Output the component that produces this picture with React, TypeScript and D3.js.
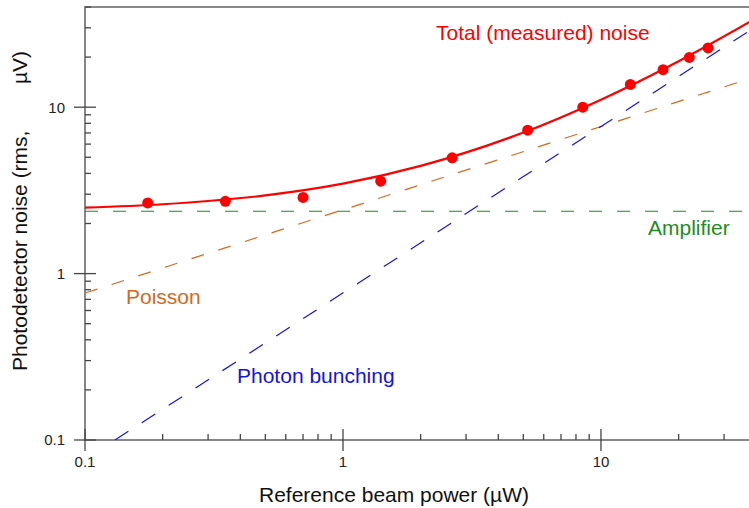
import React from "react";
import * as d3 from "d3";

// measured points (reference beam power in µW, noise in µV rms)
const measuredPower = [0.175, 0.35, 0.7, 1.4, 2.65, 5.2, 8.5, 13, 17.4, 22, 26];
const measuredNoise = [2.66, 2.72, 2.87, 3.59, 4.96, 7.28, 10, 13.7, 16.8, 19.9, 22.7];

// total noise fit curve
const totalPower = [0.1, 0.2, 0.5, 1, 2, 5, 10, 20, 40];
const totalNoise = [2.49, 2.61, 2.95, 3.47, 4.44, 7.04, 11.1, 18.9, 34.3];

// straight components (two end points each on log-log axes)
const amplifierPower = [0.1, 40];
const amplifierNoise = [2.37, 2.37];
const poissonPower = [0.1, 40];
const poissonNoise = [0.764, 15.3];
const bunchingPower = [0.1306, 40];
const bunchingNoise = [0.1, 30.6];

const xMajorTicks = [0.1, 1, 10];
const xTickLabels = ["0.1", "1", "10"];
const yMajorTicks = [0.1, 1, 10];
const yTickLabels = ["0.1", "1", "10"];

const W = 749;
const H = 508;
const FONT = "'Liberation Sans', Arial, sans-serif";

export default function App() {
  const x = d3.scaleLog().domain([0.1, 40]).range([85, 756.3]);
  const y = d3.scaleLog().domain([0.1, 40]).range([440, 7]);
  const [x0, x1] = x.range();
  const [y0, y1] = y.range();

  const zip = (xs: number[], ys: number[]) => xs.map((v, i) => [v, ys[i]] as [number, number]);
  const straight = d3
    .line<[number, number]>()
    .x((d) => x(d[0]))
    .y((d) => y(d[1]));
  const smooth = straight.curve(d3.curveMonotoneX);

  const minorX = x.ticks().filter((t) => !xMajorTicks.some((m) => Math.abs(m - t) < 1e-9));
  const minorY = y.ticks().filter((t) => !yMajorTicks.some((m) => Math.abs(m - t) < 1e-9));

  const axisCol = "#6a6a6a";
  const tickCol = "#444";

  return (
    <svg
      width={W}
      height={H}
      style={{ position: "absolute", left: 0, top: 0, background: "#fff" }}
      fontFamily={FONT}
    >
      <defs>
        <clipPath id="plot">
          <rect x={x0} y={y1} width={x1 - x0} height={y0 - y1} />
        </clipPath>
      </defs>

      {/* frame */}
      <rect x={x0} y={y1} width={x1 - x0} height={y0 - y1} fill="none" stroke={axisCol} strokeWidth={1.6} />

      {/* x ticks */}
      {minorX.map((t) => (
        <line key={"mx" + t} x1={x(t)} x2={x(t)} y1={y0} y2={y0 - 6} stroke={tickCol} strokeWidth={1.3} />
      ))}
      {xMajorTicks.map((t, i) => (
        <g key={"Mx" + t}>
          <line x1={x(t)} x2={x(t)} y1={y0 + 11} y2={y0 - 11} stroke={tickCol} strokeWidth={1.3} />
          <text x={x(t)} y={467} textAnchor="middle" fontSize={15} fill="#222">
            {xTickLabels[i]}
          </text>
        </g>
      ))}

      {/* y ticks */}
      {minorY.map((t) => (
        <line key={"my" + t} x1={x0} x2={x0 + 6} y1={y(t)} y2={y(t)} stroke={tickCol} strokeWidth={1.3} />
      ))}
      {yMajorTicks.map((t, i) => (
        <g key={"My" + t}>
          <line x1={x0 - 11} x2={x0 + 11} y1={y(t)} y2={y(t)} stroke={tickCol} strokeWidth={1.3} />
          <text x={65} y={y(t)} dy="0.36em" textAnchor="end" fontSize={15} fill="#222">
            {yTickLabels[i]}
          </text>
        </g>
      ))}

      <g clipPath="url(#plot)" fill="none">
        <path d={straight(zip(amplifierPower, amplifierNoise)) || ""} stroke="#1e8c1e" strokeWidth={1.2} strokeDasharray="13,15" />
        <path d={straight(zip(poissonPower, poissonNoise)) || ""} stroke="#d2691e" strokeWidth={1.2} strokeDasharray="13,15" />
        <path d={straight(zip(bunchingPower, bunchingNoise)) || ""} stroke="#1414dc" strokeWidth={1.2} strokeDasharray="16,16" />
        <path d={smooth(zip(totalPower, totalNoise)) || ""} stroke="#ff0000" strokeWidth={2.2} />
      </g>

      {measuredPower.map((p, i) => (
        <circle key={"pt" + i} cx={x(p)} cy={y(measuredNoise[i])} r={5.5} fill="#ff0000" />
      ))}

      {/* series labels */}
      <text x={436} y={40} fontSize={21} fill="#ff0000">Total (measured) noise</text>
      <text x={648} y={235} fontSize={21} fill="#1e8c1e">Amplifier</text>
      <text x={126} y={304} fontSize={21} fill="#d2691e">Poisson</text>
      <text x={237} y={383} fontSize={21} fill="#1414dc">Photon bunching</text>

      {/* axis titles */}
      <text x={394} y={502} textAnchor="middle" fontSize={21} fill="#111">
        Reference beam power (µW)
      </text>
      <text transform="translate(27,371) rotate(-90)" fontSize={21} fill="#111">
        Photodetector noise (rms,
      </text>
      <text transform="translate(27,51) rotate(-90)" textAnchor="end" fontSize={21} fill="#111">
        µV)
      </text>
    </svg>
  );
}
